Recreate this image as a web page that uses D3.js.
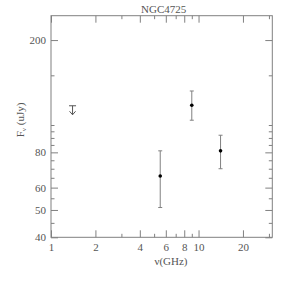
<!DOCTYPE html>
<html><head><meta charset="utf-8">
<script src="https://cdn.jsdelivr.net/npm/d3@7"></script>
<style>body{margin:0;background:#fff}svg{display:block}</style>
</head><body>
<script>
const title = "NGC4725";
const freqs = [5.5, 9.0, 14.1];
const fluxes = [66, 117.5, 81];
const errLow = [51, 104, 70];
const errHigh = [81, 132, 92];
const limitFreq = [1.4];
const limitFlux = [117];
const xMajor = [1, 2, 4, 6, 8, 10, 20];
const xMinor = [3, 5, 7, 9, 30];
const yMajor = [40, 50, 60, 80, 200];
const yMinor = [45, 55, 65, 70, 75, 85, 90, 95, 100, 150];

const W = 297, H = 281;
const L = 51, R = 272.3, T = 15.7, B = 237.3;
const lineCol = "#808080", textCol = "#555";
const font = "Liberation Serif";

const svg = d3.select("body").append("svg").attr("width", W).attr("height", H);
const x = d3.scaleLog().domain([1, 31.62]).range([L, R]);
const y = d3.scaleLog().domain([40, 244]).range([B, T]);

function styleAxis(g){
  g.select(".domain").remove();
  g.selectAll("line").attr("stroke", lineCol);
  g.selectAll("text").attr("fill", textCol).style("font-family", font).style("font-size", "11px");
}
svg.append("g").attr("transform", `translate(${L},0)`)
  .call(d3.axisLeft(y).tickValues(yMajor).tickFormat(d3.format("d")).tickSizeInner(-7).tickSizeOuter(0).tickPadding(5)).call(styleAxis);
svg.append("g").attr("transform", `translate(${L},0)`)
  .call(d3.axisLeft(y).tickValues(yMinor).tickFormat("").tickSizeInner(-3.5).tickSizeOuter(0)).call(styleAxis);
svg.append("g").attr("transform", `translate(${R},0)`)
  .call(d3.axisRight(y).tickValues(yMajor).tickFormat("").tickSizeInner(-7).tickSizeOuter(0)).call(styleAxis);
svg.append("g").attr("transform", `translate(${R},0)`)
  .call(d3.axisRight(y).tickValues(yMinor).tickFormat("").tickSizeInner(-3.5).tickSizeOuter(0)).call(styleAxis);
svg.append("g").attr("transform", `translate(0,${B})`)
  .call(d3.axisBottom(x).tickValues(xMajor).tickFormat(d3.format("d")).tickSizeInner(-7).tickSizeOuter(0).tickPadding(6)).call(styleAxis);
svg.append("g").attr("transform", `translate(0,${B})`)
  .call(d3.axisBottom(x).tickValues(xMinor).tickFormat("").tickSizeInner(-3.5).tickSizeOuter(0)).call(styleAxis);
svg.append("g").attr("transform", `translate(0,${T})`)
  .call(d3.axisTop(x).tickValues(xMajor).tickFormat("").tickSizeInner(-7).tickSizeOuter(0)).call(styleAxis);
svg.append("g").attr("transform", `translate(0,${T})`)
  .call(d3.axisTop(x).tickValues(xMinor).tickFormat("").tickSizeInner(-3.5).tickSizeOuter(0)).call(styleAxis);

svg.append("rect").attr("x", L).attr("y", T).attr("width", R - L).attr("height", B - T)
  .attr("fill", "none").attr("stroke", lineCol).attr("stroke-width", 1);

svg.append("text").attr("x", (L + R) / 2 + 2).attr("y", T - 3).attr("text-anchor", "middle")
  .attr("fill", textCol).style("font-family", font).style("font-size", "11px").text(title);

const xl = svg.append("text").attr("x", 171).attr("y", 265).attr("text-anchor", "middle")
  .attr("fill", textCol).style("font-family", font).style("font-size", "11px");
xl.append("tspan").text("ν");
xl.append("tspan").text("(GHz)");

const yl = svg.append("text").attr("transform", "translate(24,120) rotate(-90)").attr("text-anchor", "middle")
  .attr("fill", textCol).style("font-family", font).style("font-size", "11px");
yl.append("tspan").text("F");
yl.append("tspan").attr("dy", 2).style("font-size", "7px").text("ν");
yl.append("tspan").attr("dy", -2).text(" (uJy)");

const pts = freqs.map((f, i) => ({f, v: fluxes[i], lo: errLow[i], hi: errHigh[i]}));
const eg = svg.append("g").attr("stroke", lineCol).attr("stroke-width", 1);
pts.forEach(p => {
  eg.append("line").attr("x1", x(p.f)).attr("x2", x(p.f)).attr("y1", y(p.lo)).attr("y2", y(p.hi));
  eg.append("line").attr("x1", x(p.f) - 2).attr("x2", x(p.f) + 2).attr("y1", y(p.lo)).attr("y2", y(p.lo));
  eg.append("line").attr("x1", x(p.f) - 2).attr("x2", x(p.f) + 2).attr("y1", y(p.hi)).attr("y2", y(p.hi));
});
svg.append("g").selectAll("circle").data(pts).join("circle")
  .attr("cx", d => x(d.f)).attr("cy", d => y(d.v)).attr("r", 1.8).attr("fill", "#000");

const ug = svg.append("g").attr("stroke", "#555").attr("stroke-width", 1).attr("fill", "none");
limitFreq.forEach((f, i) => {
  const cx = x(f), cy = y(limitFlux[i]);
  ug.append("line").attr("x1", cx - 3.5).attr("x2", cx + 3.5).attr("y1", cy).attr("y2", cy);
  ug.append("line").attr("x1", cx).attr("x2", cx).attr("y1", cy).attr("y2", cy + 9);
  ug.append("path").attr("d", `M${cx - 3},${cy + 5.5} L${cx},${cy + 9} L${cx + 3},${cy + 5.5}`);
});
</script>
</body></html>
